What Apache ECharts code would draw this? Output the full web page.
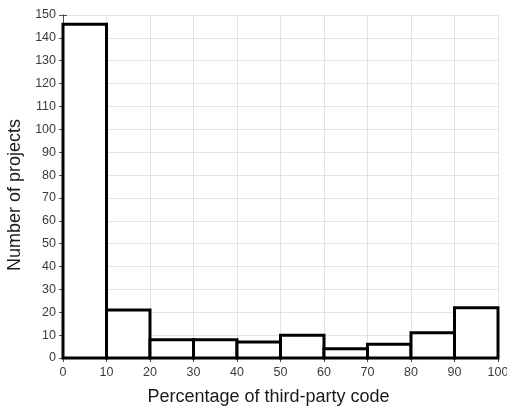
<!DOCTYPE html>
<html>
<head>
<meta charset="utf-8">
<script src="https://cdn.jsdelivr.net/npm/echarts@6/dist/echarts.min.js"></script>
<style>
  html, body { margin: 0; padding: 0; background: #fff; }
  #chart { width: 507px; height: 407px; }
</style>
</head>
<body>
<div id="chart"></div>
<script>
// bin edges (percent) and project counts per bin
const binStarts = [0, 10, 20, 30, 40, 50, 60, 70, 80, 90];
const binEnds = [10, 20, 30, 40, 50, 60, 70, 80, 90, 100];
const counts = [146, 21, 8, 8, 7, 10, 4, 6, 11, 22];

const xTitle = 'Percentage of third-party code';
const yTitle = 'Number of projects';

const font = 'Liberation Sans, Arial, Helvetica, sans-serif';
const boxColor = '#4d4d4d';
const gridColor = '#e3e3e3';

const data = binStarts.map((s, i) => [s, binEnds[i], counts[i]]);

const chart = echarts.init(document.getElementById('chart'));

const sideAxis = (extra) => Object.assign({
  type: 'value',
  axisLine: { show: true, lineStyle: { color: boxColor, width: 1 } },
  axisTick: { show: true, inside: true, length: 4, lineStyle: { color: boxColor } },
  axisLabel: { show: false },
  splitLine: { show: false }
}, extra);

chart.setOption({
  animation: false,
  grid: { left: 63, right: 9, top: 15, bottom: 49, containLabel: false, outerBoundsMode: 'none' },
  xAxis: [
    {
      type: 'value', min: 0, max: 100, interval: 10,
      name: xTitle, nameLocation: 'middle', nameGap: 30,
      // title sits a little left of the plot centre in the original
      nameTextStyle: { color: '#1a1a1a', fontSize: 18, fontFamily: font, padding: [0, 24, 0, 0] },
      axisLine: { show: true, lineStyle: { color: boxColor, width: 1 } },
      axisTick: { show: true, inside: true, length: 4, lineStyle: { color: boxColor } },
      axisLabel: { color: '#3a3a3a', fontSize: 12.5, fontFamily: font, margin: 8 },
      splitLine: { show: true, lineStyle: { color: gridColor, width: 1 } }
    },
    sideAxis({ position: 'top', min: 0, max: 100, interval: 10 })
  ],
  yAxis: [
    {
      type: 'value', min: 0, max: 150, interval: 10,
      name: yTitle, nameLocation: 'middle', nameGap: 28, nameRotate: 90,
      nameTextStyle: { color: '#1a1a1a', fontSize: 18, fontFamily: font, padding: [0, 17, 0, 0] },
      axisLine: { show: true, lineStyle: { color: boxColor, width: 1 } },
      axisTick: { show: true, inside: true, length: 4, lineStyle: { color: boxColor } },
      axisLabel: { color: '#3a3a3a', fontSize: 12.5, fontFamily: font, margin: 7 },
      splitLine: { show: true, lineStyle: { color: gridColor, width: 1 } }
    },
    sideAxis({ position: 'right', min: 0, max: 150, interval: 10 })
  ],
  series: [{
    type: 'custom',
    xAxisIndex: 0,
    yAxisIndex: 0,
    data: data,
    encode: { x: [0, 1], y: 2 },
    renderItem: function (params, api) {
      const p0 = api.coord([api.value(0), 0]);
      const p1 = api.coord([api.value(1), api.value(2)]);
      return {
        type: 'rect',
        shape: { x: p0[0], y: p1[1], width: p1[0] - p0[0], height: p0[1] - p1[1] },
        style: { fill: '#fff', stroke: '#000', lineWidth: 3 }
      };
    }
  }]
});
</script>
</body>
</html>
